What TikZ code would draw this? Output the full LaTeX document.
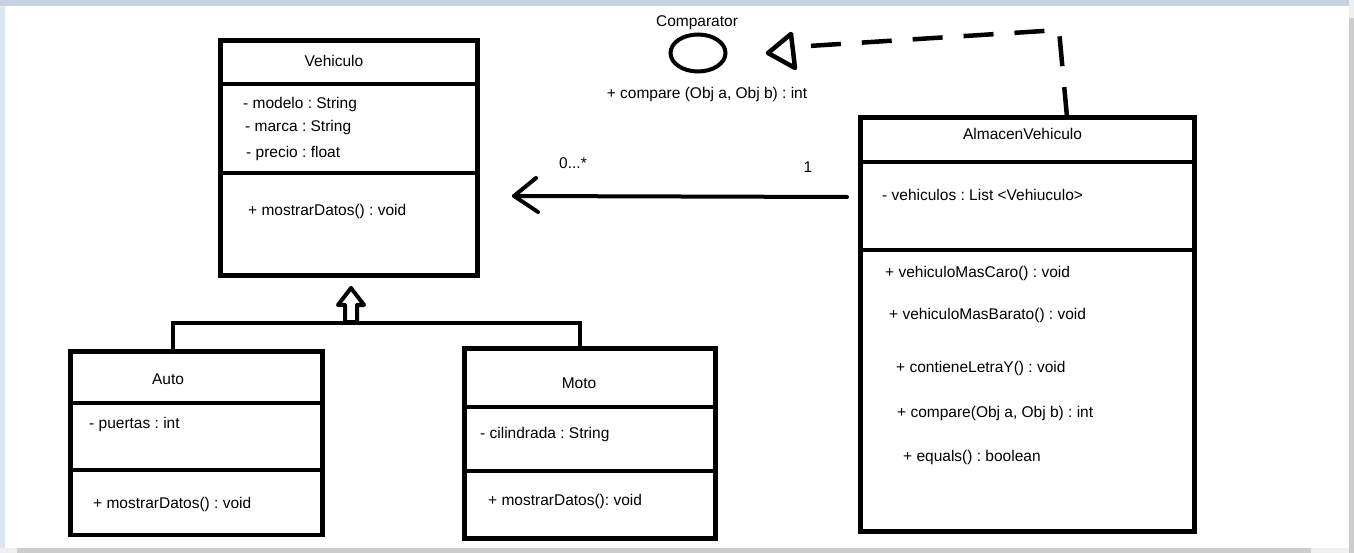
\documentclass[tikz,border=0pt]{standalone}
\usepackage{fontspec}
\setmainfont{Liberation Sans}
\usetikzlibrary{shapes.geometric}
\definecolor{chromeTop}{HTML}{C8D1E1}
\definecolor{chromeLeft}{HTML}{DCE6F4}
\definecolor{chromeGrey}{HTML}{CDCDCD}
\definecolor{chromeLight}{HTML}{F0F0F0}
\frenchspacing
\begin{document}
\begin{tikzpicture}[x=1pt,y=-1pt,
  umlbox/.style={draw, line width=4.5pt, rectangle, inner sep=0pt, fill=white},
  lbl/.style={inner sep=0pt, font=\fontsize{15.5}{18}\selectfont, text height=11pt, text depth=0pt},
  lw/.style={anchor=west},
  boldline/.style={line width=4.5pt},
  connline/.style={line width=4pt, line cap=round, line join=round},
]
\useasboundingbox (0,0) rectangle (1354,553);
\fill[white] (0,0) rectangle (1354,553);
% window chrome
\fill[chromeTop] (0,0) rectangle (1349,6);
\fill[chromeLeft] (0,6) rectangle (5,548);
\fill[chromeLight] (1349,0) rectangle (1354,18);
\fill[chromeGrey] (1349,18) rectangle (1354,553);
\fill[chromeGrey] (17,548) rectangle (1311,553);
\fill[chromeLight] (0,548) rectangle (17,553);
\fill[chromeLight] (1311,548) rectangle (1349,553);

% ---------- Vehiculo ----------
\node[umlbox, minimum width=257pt, minimum height=235pt] (veh) at (349,158) {};
\draw[boldline] (220.5,84) -- (477.5,84);
\draw[boldline] (220.5,173) -- (477.5,173);
\node[lbl] (vehT) at (334,61) {Vehiculo};
\node[lbl,lw] (vehA1) at (243,103) {- modelo : String};
\node[lbl,lw] (vehA2) at (245,126) {- marca : String};
\node[lbl,lw] (vehA3) at (246,152) {- precio : float};
\node[lbl,lw] (vehM1) at (248,210) {+ mostrarDatos() : void};

% ---------- Auto ----------
\node[umlbox, minimum width=252pt, minimum height=183.5pt] (auto) at (196.5,443.25) {};
\draw[boldline] (70.5,403) -- (322.5,403);
\draw[boldline] (70.5,470) -- (322.5,470);
\node[lbl] (autoT) at (168,379) {Auto};
\node[lbl,lw] (autoA1) at (89,423) {- puertas : int};
\node[lbl,lw] (autoM1) at (93,503) {+ mostrarDatos() : void};

% ---------- Moto ----------
\node[umlbox, minimum width=251pt, minimum height=190pt] (moto) at (590,443.5) {};
\draw[boldline] (464.5,407) -- (715.5,407);
\draw[boldline] (464.5,471) -- (715.5,471);
\node[lbl] (motoT) at (579,383) {Moto};
\node[lbl,lw] (motoA1) at (480,433) {- cilindrada : String};
\node[lbl,lw] (motoM1) at (488,500) {+ mostrarDatos(): void};

% ---------- AlmacenVehiculo ----------
\node[umlbox, minimum width=334pt, minimum height=414pt] (alm) at (1027.5,324.5) {};
\draw[boldline] (860.5,162) -- (1194.5,162);
\draw[boldline] (860.5,250) -- (1194.5,250);
\node[lbl] (almT) at (1022.5,134) {AlmacenVehiculo};
\node[lbl,lw] (almA1) at (882,195) {- vehiculos : List <Vehiuculo>};
\node[lbl,lw] (almM1) at (885,272) {+ vehiculoMasCaro() : void};
\node[lbl,lw] (almM2) at (889,314) {+ vehiculoMasBarato() : void};
\node[lbl,lw] (almM3) at (896,367) {+ contieneLetraY() : void};
\node[lbl,lw] (almM4) at (897,412) {+ compare(Obj a, Obj b) : int};
\node[lbl,lw] (almM5) at (903,456) {+ equals() : boolean};

% ---------- Comparator interface ----------
\node[draw, ellipse, line width=4pt, minimum width=55pt, minimum height=37pt, inner sep=0pt] (comp) at (698,53) {};
\node[lbl] (compT) at (697,21) {Comparator};
\node[lbl] (compM) at (707,93) {+ compare (Obj a, Obj b) : int};

% ---------- Generalization ----------
\coordinate (genL) at (173,323);
\coordinate (genR) at (580,323);
\draw[boldline, line cap=round] (genL |- auto.north) -- (genL) -- (genR) -- (genR |- moto.north);
\coordinate (genTip) at (351,288);
\draw[line width=4pt, line join=round, fill=white]
  (genTip) -- (364,305) -- (357,305) -- (357,322) -- (345,322) -- (345,305) -- (338,305) -- cycle;

% ---------- Association ----------
\coordinate (asStart) at (847,197);
\coordinate (asTip) at (514,196);
\draw[connline] (asStart) -- (asTip);
\draw[connline] (536,178) -- (asTip) -- (538,212);
\node[lbl] (multMany) at (573,163) {0...*};
\node[lbl] (multOne) at (808,167) {1};

% ---------- Realization (dashed) ----------
\coordinate (reStart) at (1067,117);
\coordinate (reCorner) at (1059,30);
\coordinate (reEnd) at (793,47);
\draw[line width=4.5pt, dash pattern=on 30pt off 21pt] (reStart) -- (reCorner) -- (reEnd);
\coordinate (reTip) at (768,53);
\draw[line width=4.5pt, line join=round, fill=white] (reTip) -- (791,34) -- (795,68) -- cycle;
\end{tikzpicture}
\end{document}
